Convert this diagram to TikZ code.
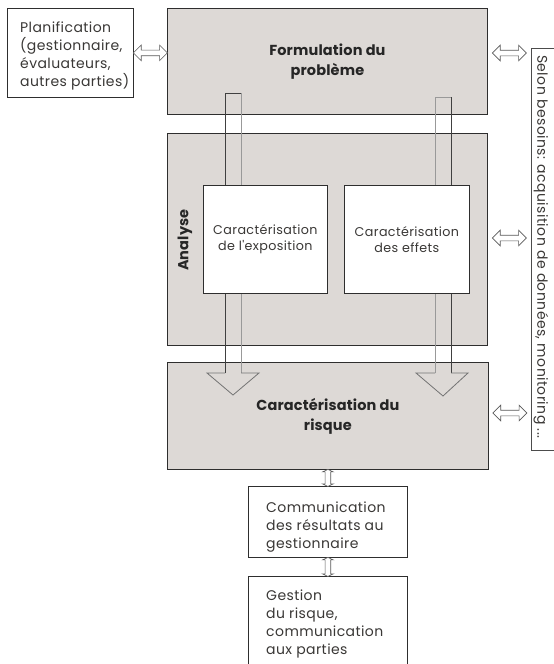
\documentclass[tikz,border=0pt]{standalone}
\usepackage{fontspec}
\setmainfont{Poppins}
\newfontfamily\regfont[LetterSpace=3]{Poppins}
\newfontfamily\bldfont[LetterSpace=1]{Poppins}
\usetikzlibrary{shapes.arrows,calc}
\definecolor{boxgray}{HTML}{DDD9D6}
\definecolor{txt}{HTML}{3A3836}
\definecolor{edge}{HTML}{2E2E2E}
\begin{document}
\begin{tikzpicture}[x=1pt,y=-1pt,
  graybox/.style={draw=edge, fill=boxgray, line width=0.8pt, anchor=north west, inner sep=0pt},
  whitebox/.style={draw=edge, fill=white, line width=0.8pt, anchor=north west, inner sep=0pt},
  reg/.style={font=\regfont\fontsize{14}{18}\selectfont, text=txt},
  smallreg/.style={font=\regfont\fontsize{12.7}{16.5}\selectfont, text=txt},
  bld/.style={font=\bldfont\fontsize{14.5}{20}\selectfont\bfseries, text=black!85},
  darrow/.style={shape=double arrow, draw=black!65, fill=white, line width=0.6pt,
    inner sep=2.5pt, double arrow head extend=5pt, minimum height=34pt},
  vdarrow/.style={shape=double arrow, draw=black!65, fill=white, line width=0.6pt,
    inner sep=2.5pt, double arrow head extend=2.5pt, double arrow tip angle=130,
    shape border rotate=90},
  shaftdark/.style={draw=black!75, line width=0.9pt},
  shaftlight/.style={draw=black!40, line width=0.9pt},
  headline/.style={draw=black!55, line width=0.8pt}
]
\useasboundingbox (0,0) rectangle (554,664);

% boxes
\node[whitebox, minimum width=126, minimum height=89] (plan) at (7,8) {};
\node[reg, align=left, anchor=north west, inner sep=0pt] (plantxt) at (20,21.5)
  {Planification\\(gestionnaire,\\évaluateurs,\\autres parties)};
\node[graybox, minimum width=320, minimum height=106, bld, align=center] (form) at (167,8)
  {Formulation du\\problème};
\node[graybox, minimum width=320, minimum height=212] (ana) at (167,133) {};
\node[bld, rotate=90] (anatxt) at (185,240) {Analyse};
\node[graybox, minimum width=321, minimum height=107, bld, align=center] (risk) at (167,362)
  {Caractérisation du\\risque};

% shafts
\draw[shaftdark] (225,373) -- (225,93) -- (241,93);
\draw[shaftlight] (241,93) -- (241,373);
\draw[shaftlight] (435,373) -- (435,97) -- (451,97);
\draw[shaftdark] (451,97) -- (451,373);
\draw[headline] (225,373) -- (207,373) -- (233,395) -- (259,373) -- (241,373);
\draw[headline] (435,373) -- (416,373) -- (443,396) -- (468,373) -- (451,373);

% inner boxes
\node[whitebox, minimum width=124, minimum height=108, smallreg, align=center] (expo) at (203,185)
  {Caractérisation\\de l'exposition};
\node[whitebox, minimum width=125, minimum height=108, smallreg, align=center] (eff) at (344,185)
  {Caractérisation\\des effets};

% lower boxes
\node[whitebox, minimum width=159, minimum height=71] (comm) at (248,486) {};
\node[reg, align=left, anchor=north west, inner sep=0pt] (commtxt) at (266,502)
  {Communication\\des résultats au\\gestionnaire};
\node[whitebox, minimum width=159, minimum height=110] (gest) at (248,576) {};
\node[reg, align=left, anchor=north west, inner sep=0pt] (gesttxt) at (266,589.5)
  {Gestion\\du risque,\\communication\\aux parties};

% right box
\node[draw=black!70, line width=0.7pt, anchor=north west, minimum width=40, minimum height=402, inner sep=0pt] (sel) at (531,48) {};
\node[reg, rotate=-90, anchor=west, inner sep=0pt] (seltxt) at (541,55)
  {Selon besoins: acquisition de données, monitoring ...};

% double arrows
\node[darrow] (a1) at ($(plan.east)!.5!(plan.east -| form.west)$) {};
\node[darrow] (a2) at ($(form.east |- 0,53)!.5!(sel.west |- 0,53)$) {};
\node[darrow] (a3) at ($(ana.east |- 0,238)!.5!(sel.west |- 0,238)$) {};
\node[darrow] (a4) at ($(risk.east |- 0,413)!.5!(sel.west |- 0,413)$) {};
\node[vdarrow, minimum height=17pt] (a5) at ($(risk.south)!.5!(risk.south |- comm.north)$ -| 328,0) {};
\node[vdarrow, minimum height=19pt] (a6) at ($(comm.south)!.5!(gest.north)$ -| 328,0) {};
\end{tikzpicture}
\end{document}
